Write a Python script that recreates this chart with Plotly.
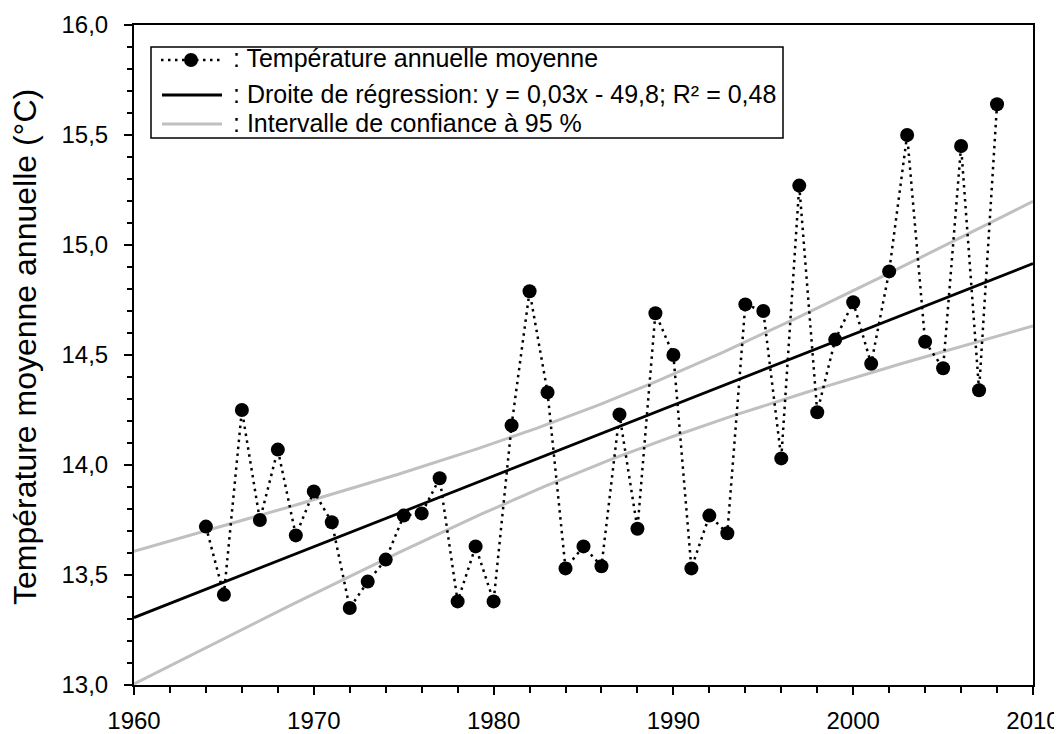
import numpy as np
import plotly.graph_objects as go

# ---- data ----
years = list(range(1964, 2009))
temps = [13.72, 13.41, 14.25, 13.75, 14.07, 13.68, 13.88, 13.74, 13.35, 13.47,
         13.57, 13.77, 13.78, 13.94, 13.38, 13.63, 13.38, 14.18, 14.79, 14.33,
         13.53, 13.63, 13.54, 14.23, 13.71, 14.69, 14.50, 13.53, 13.77, 13.69,
         14.73, 14.70, 14.03, 15.27, 14.24, 14.57, 14.74, 14.46, 14.88, 15.50,
         14.56, 14.44, 15.45, 14.34, 15.64]

x_range = [1960, 2010]
y_range = [13.0, 16.0]
x_ticks = [1960, 1970, 1980, 1990, 2000, 2010]
y_ticks = [13.0, 13.5, 14.0, 14.5, 15.0, 15.5, 16.0]

legend_labels = [": Température annuelle moyenne",
                 ": Droite de régression: y = 0,03x - 49,8; R² = 0,48",
                 ": Intervalle de confiance à 95 %"]
y_title = "Température moyenne annuelle (°C)"

T_975_DF43 = 2.0167  # Student t quantile for the 95 % interval

# ---- regression and confidence interval computed from the data ----
xa = np.array(years, dtype=float)
ya = np.array(temps, dtype=float)
n = len(xa)
slope, intercept = np.polyfit(xa, ya, 1)
resid = ya - (slope * xa + intercept)
s = np.sqrt(np.sum(resid ** 2) / (n - 2))
xm = xa.mean()
sxx = np.sum((xa - xm) ** 2)
xg = np.linspace(x_range[0], x_range[1], 201)
yfit = slope * xg + intercept
half = T_975_DF43 * s * np.sqrt(1.0 / n + (xg - xm) ** 2 / sxx)

BLACK = "#000000"
GREY = "#c0c0c0"
FONT = "Liberation Sans, Arial, sans-serif"

fig = go.Figure()
fig.add_trace(go.Scatter(x=xg, y=yfit + half, mode="lines",
                         line=dict(color=GREY, width=3), showlegend=False, hoverinfo="skip"))
fig.add_trace(go.Scatter(x=xg, y=yfit - half, mode="lines",
                         line=dict(color=GREY, width=3), showlegend=False, hoverinfo="skip"))
fig.add_trace(go.Scatter(x=xg, y=yfit, mode="lines",
                         line=dict(color=BLACK, width=2.8), showlegend=False, hoverinfo="skip"))
fig.add_trace(go.Scatter(x=years, y=temps, mode="lines+markers",
                         line=dict(color=BLACK, width=2.5, dash="2.5px,4.5px"),
                         marker=dict(color=BLACK, size=14),
                         showlegend=False))

# ---- plot geometry (page pixels; the page body has an 8 px margin) ----
OFF = 8
W, H = 1062 - OFF, 734 - OFF
L, R, T, B = 134 - OFF, 29, 25 - OFF, 49
PW, PH = W - L - R, H - T - B


def px(xp):  # page x -> paper
    return (xp - OFF - L) / PW


def py(yp):  # page y -> paper
    return (H - B - (yp - OFF)) / PH


# ---- hand-made legend box ----
shapes = [dict(type="rect", xref="paper", yref="paper",
               x0=px(151), x1=px(783), y0=py(138), y1=py(47),
               line=dict(color=BLACK, width=1.5), fillcolor="white", layer="above")]
row_y = [60, 95, 124]
shapes.append(dict(type="line", xref="paper", yref="paper", x0=px(161), x1=px(220),
                   y0=py(row_y[0]), y1=py(row_y[0]),
                   line=dict(color=BLACK, width=2.5, dash="2.5px,4.5px"), layer="above"))
shapes.append(dict(type="circle", xref="paper", yref="paper",
                   xsizemode="pixel", ysizemode="pixel",
                   xanchor=px(191), yanchor=py(row_y[0]),
                   x0=-7, x1=7, y0=-7, y1=7,
                   fillcolor=BLACK, line=dict(color=BLACK, width=0), layer="above"))
shapes.append(dict(type="line", xref="paper", yref="paper", x0=px(162), x1=px(222),
                   y0=py(row_y[1]), y1=py(row_y[1]),
                   line=dict(color=BLACK, width=2.8), layer="above"))
shapes.append(dict(type="line", xref="paper", yref="paper", x0=px(162), x1=px(222),
                   y0=py(row_y[2]), y1=py(row_y[2]),
                   line=dict(color=GREY, width=3), layer="above"))

annotations = []
for lbl, ry in zip(legend_labels, [58, 94, 123]):
    annotations.append(dict(text=lbl, xref="paper", yref="paper",
                            x=px(231), y=py(ry), xanchor="left", yanchor="middle",
                            showarrow=False, font=dict(size=25, color=BLACK, family=FONT)))
annotations.append(dict(text=y_title, xref="paper", yref="paper",
                        x=px(25), y=py(347), xanchor="center", yanchor="middle",
                        textangle=-90, showarrow=False,
                        font=dict(size=32, color=BLACK, family=FONT)))

fig.update_layout(
    width=W, height=H, autosize=False,
    margin=dict(l=L, r=R, t=T, b=B, pad=0, autoexpand=False),
    paper_bgcolor="white", plot_bgcolor="white",
    separators=", ",
    font=dict(family=FONT, color=BLACK),
    shapes=shapes, annotations=annotations,
    showlegend=False,
)
fig.update_xaxes(range=x_range, tickvals=x_ticks, ticks="outside", ticklen=8, tickwidth=1.5,
                 tickcolor=BLACK, showline=True, linecolor=BLACK, linewidth=2, mirror=True,
                 showgrid=False, zeroline=False, tickfont=dict(size=24, family=FONT),
                 ticklabelstandoff=5, automargin=False,
                 minor=dict(dtick=2, ticks="outside", ticklen=6, tickwidth=1.5, tickcolor=BLACK))
fig.update_yaxes(range=y_range, tickvals=y_ticks, tickformat=".1f", ticks="outside", ticklen=8,
                 tickwidth=1.5, tickcolor=BLACK, showline=True, linecolor=BLACK, linewidth=2,
                 mirror=True, showgrid=False, zeroline=False, tickfont=dict(size=24, family=FONT),
                 ticklabelstandoff=11, automargin=False,
                 minor=dict(dtick=0.1, ticks="outside", ticklen=5, tickwidth=1.5, tickcolor=BLACK))

fig.write_html("out.html")
